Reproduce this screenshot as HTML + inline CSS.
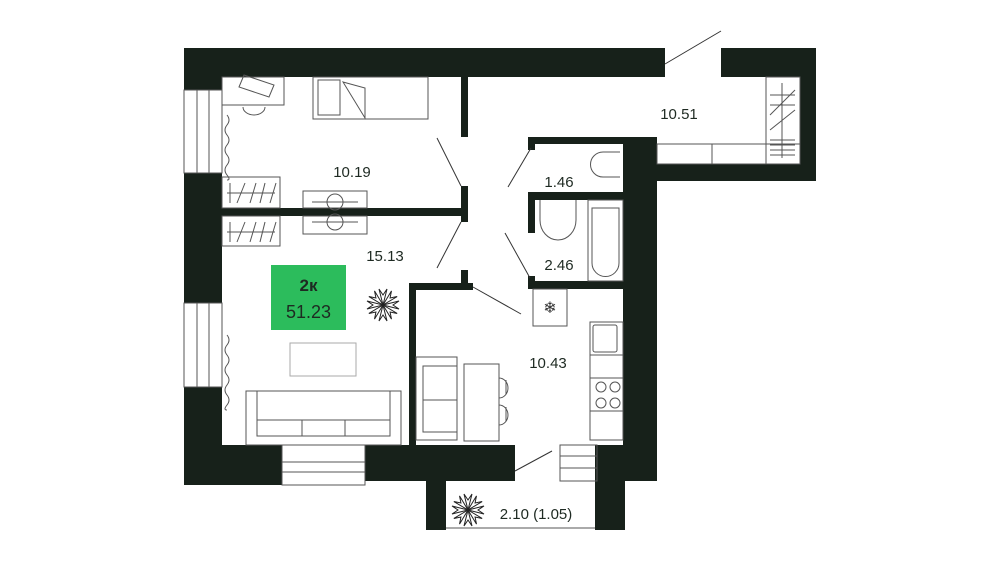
<!DOCTYPE html>
<html><head><meta charset="utf-8"><style>
html,body{margin:0;padding:0;background:#fff;}
svg{display:block}
text{font-family:"Liberation Sans",sans-serif;fill:#1e2a22;}
</style></head><body>
<svg width="1000" height="563" viewBox="0 0 1000 563" xmlns="http://www.w3.org/2000/svg">
<g fill="#17211a">
<!-- top wall -->
<rect x="184" y="48" width="481" height="29"/>
<rect x="721" y="48" width="95" height="29"/>
<rect x="800" y="48" width="16" height="133"/>
<rect x="657" y="164" width="159" height="17"/>
<!-- left wall -->
<rect x="184" y="48" width="38" height="42"/>
<rect x="184" y="173" width="38" height="130"/>
<rect x="184" y="387" width="38" height="98"/>
<!-- bottom walls -->
<rect x="184" y="445" width="98" height="40"/>
<rect x="365" y="445" width="150" height="36"/>
<rect x="597" y="445" width="60" height="36"/>
<rect x="595" y="445" width="30" height="85"/>
<rect x="426" y="481" width="20" height="49"/>
<!-- right wall -->
<rect x="623" y="137" width="34" height="344"/>
<!-- partitions -->
<rect x="461" y="77" width="7" height="60"/>
<rect x="461" y="186" width="7" height="36"/>
<rect x="222" y="208" width="246" height="8"/>
<rect x="461" y="270" width="7" height="20"/>
<rect x="409" y="283" width="64" height="7"/>
<rect x="409" y="283" width="7" height="162"/>
<rect x="528" y="137" width="129" height="7"/>
<rect x="528" y="137" width="7" height="13"/>
<rect x="528" y="192" width="95" height="8"/>
<rect x="528" y="192" width="7" height="41"/>
<rect x="528" y="281" width="95" height="8"/>
<rect x="528" y="276" width="7" height="13"/>
</g>
<g fill="none" stroke="#555" stroke-width="1">
<!-- windows -->
<rect x="184" y="90" width="38" height="83"/><line x1="197" y1="90" x2="197" y2="173"/><line x1="209" y1="90" x2="209" y2="173"/>
<rect x="184" y="303" width="38" height="84"/><line x1="197" y1="303" x2="197" y2="387"/><line x1="209" y1="303" x2="209" y2="387"/>
<rect x="282" y="445" width="83" height="40"/><line x1="282" y1="462" x2="365" y2="462"/><line x1="282" y1="472" x2="365" y2="472"/>
<rect x="560" y="445" width="37" height="36"/><line x1="560" y1="456" x2="597" y2="456"/><line x1="560" y1="468" x2="597" y2="468"/>
<line x1="446" y1="528" x2="595" y2="528"/>
<!-- door swings -->
<line x1="665" y1="64" x2="721" y2="31" stroke="#333"/>
<line x1="437" y1="138" x2="461" y2="186" stroke="#333"/>
<line x1="437" y1="268" x2="461" y2="222" stroke="#333"/>
<line x1="508" y1="187" x2="531" y2="148" stroke="#333"/>
<line x1="505" y1="233" x2="530" y2="278" stroke="#333"/>
<line x1="473" y1="287" x2="521" y2="314" stroke="#333"/>
<line x1="515" y1="471" x2="552" y2="451" stroke="#333"/>
<!-- hall storage -->
<rect x="657" y="144" width="143" height="20"/><line x1="712" y1="144" x2="712" y2="164"/>
<rect x="766" y="77" width="34" height="87"/>
<line x1="782" y1="83" x2="782" y2="158"/>
<line x1="770" y1="95" x2="795" y2="95"/><line x1="770" y1="105" x2="795" y2="105"/><line x1="770" y1="115" x2="795" y2="90"/><line x1="770" y1="130" x2="795" y2="110"/>
<line x1="770" y1="140" x2="795" y2="140"/><line x1="770" y1="145" x2="795" y2="145"/><line x1="770" y1="150" x2="795" y2="150"/><line x1="770" y1="155" x2="795" y2="155"/>
<!-- bedroom furniture -->
<rect x="222" y="77" width="62" height="28"/>
<path d="M243 107 a11 8 0 0 0 22 0"/>
<path d="M244 75 l30 10 -5 12 -30 -10 z"/>
<rect x="313" y="77" width="115" height="42"/>
<rect x="318" y="80" width="22" height="35"/>
<path d="M343 82 l22 6 0 30 z"/>
<path d="M227 115 q4 5 0 10 q-4 5 0 10 q4 5 0 10 q-4 5 0 10 q4 5 0 10 q-4 5 0 10 q4 5 0 5"/>
<rect x="222" y="177" width="58" height="31"/>
<rect x="222" y="216" width="58" height="30"/>
<line x1="227" y1="193" x2="275" y2="193"/><line x1="230" y1="183" x2="230" y2="203"/><line x1="237" y1="203" x2="245" y2="183"/><line x1="250" y1="203" x2="256" y2="183"/><line x1="260" y1="203" x2="265" y2="183"/><line x1="270" y1="203" x2="276" y2="183"/>
<line x1="227" y1="232" x2="275" y2="232"/><line x1="230" y1="222" x2="230" y2="242"/><line x1="237" y1="242" x2="245" y2="222"/><line x1="250" y1="242" x2="256" y2="222"/><line x1="260" y1="242" x2="265" y2="222"/><line x1="270" y1="242" x2="276" y2="222"/>
<rect x="303" y="191" width="64" height="17"/><rect x="303" y="216" width="64" height="18"/>
<path d="M312 202 h46 M312 222 h46"/>
<circle cx="335" cy="202" r="8"/><circle cx="335" cy="222" r="8"/>
<!-- living -->
<path d="M227 335 q4 5 0 10 q-4 5 0 10 q4 5 0 10 q-4 5 0 10 q4 5 0 10 q-4 5 0 10 q4 5 0 10 q-4 5 0 5"/>
<rect x="290" y="343" width="66" height="33" stroke="#aaa"/>
<rect x="246" y="391" width="155" height="54"/>
<line x1="257" y1="391" x2="257" y2="435"/><line x1="390" y1="391" x2="390" y2="435"/>
<rect x="257" y="420" width="133" height="16"/><line x1="302" y1="420" x2="302" y2="436"/><line x1="345" y1="420" x2="345" y2="436"/>
<!-- kitchen -->
<rect x="416" y="357" width="41" height="83"/><rect x="423" y="366" width="34" height="66"/><line x1="423" y1="400" x2="457" y2="400"/>
<rect x="464" y="364" width="35" height="77"/>
<path d="M499 378 a9 10 0 0 1 0 20 M506 380 v14 M499 405 a9 10 0 0 1 0 20 M506 407 v14"/>
<rect x="533" y="289" width="34" height="37"/>
<rect x="590" y="322" width="33" height="118"/>
<rect x="590" y="322" width="33" height="33"/><rect x="593" y="325" width="24" height="27" rx="2"/>
<rect x="590" y="378" width="33" height="33"/>
<circle cx="601" cy="387" r="5"/><circle cx="615" cy="387" r="5"/><circle cx="601" cy="403" r="5"/><circle cx="615" cy="403" r="5"/>
<!-- bathroom -->
<path d="M620 152 h-17 a10 10 0 0 0 0 25 h17"/>
<path d="M540 200 v20 a18 20 0 0 0 36 0 v-20"/>
<rect x="588" y="200" width="35" height="81"/>
<path d="M592 208 h27 v55 a13 13 0 0 1 -27 0 z"/>
</g>
<g fill="none" stroke="#222" stroke-width="1">
<path id="fl" d="M383 305 l-4 -16 4 6 4 -6 z"/>
<use href="#fl" transform="rotate(45 383 305)"/><use href="#fl" transform="rotate(90 383 305)"/><use href="#fl" transform="rotate(135 383 305)"/><use href="#fl" transform="rotate(180 383 305)"/><use href="#fl" transform="rotate(225 383 305)"/><use href="#fl" transform="rotate(270 383 305)"/><use href="#fl" transform="rotate(315 383 305)"/>
<g transform="translate(85 205)"><use href="#fl"/><use href="#fl" transform="rotate(45 383 305)"/><use href="#fl" transform="rotate(90 383 305)"/><use href="#fl" transform="rotate(135 383 305)"/><use href="#fl" transform="rotate(180 383 305)"/><use href="#fl" transform="rotate(225 383 305)"/><use href="#fl" transform="rotate(270 383 305)"/><use href="#fl" transform="rotate(315 383 305)"/></g>
</g>
<text x="550" y="313" font-size="16" text-anchor="middle" style="fill:#333">❄</text>
<rect x="271" y="265" width="75" height="65" fill="#2cbc5c"/>
<text x="308.5" y="291" font-size="17" font-weight="bold" text-anchor="middle">2к</text>
<text x="308.5" y="318" font-size="18" text-anchor="middle">51.23</text>
<g font-size="15" text-anchor="middle">
<text x="352" y="177">10.19</text>
<text x="385" y="261">15.13</text>
<text x="679" y="119">10.51</text>
<text x="559" y="187">1.46</text>
<text x="559" y="270">2.46</text>
<text x="548" y="368">10.43</text>
<text x="536" y="519">2.10 (1.05)</text>
</g>
</svg>
</body></html>
